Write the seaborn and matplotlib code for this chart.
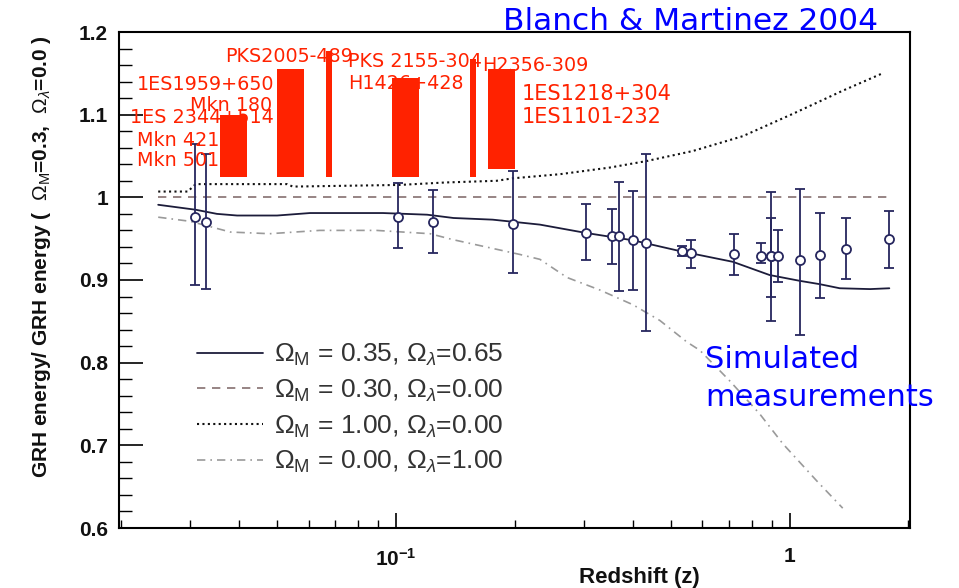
import numpy as np
import pandas as pd
import matplotlib
matplotlib.use("Agg")
import matplotlib.pyplot as plt
import matplotlib.ticker as mticker
from matplotlib.lines import Line2D
import seaborn as sns

# ---------------- data ----------------
# model curves: redshift z and energy ratio
z_solid = [0.0249, 0.031, 0.0351, 0.0395, 0.0499, 0.0605, 0.0927, 0.120, 0.140, 0.176,
           0.232, 0.303, 0.400, 0.526, 0.717, 0.889, 1.06, 1.19, 1.34, 1.60, 1.79]
v_solid = [0.991, 0.985, 0.980, 0.978, 0.978, 0.981, 0.981, 0.979, 0.975, 0.973,
           0.967, 0.957, 0.948, 0.935, 0.922, 0.906, 0.899, 0.895, 0.890, 0.889, 0.890]

z_dashed = [0.0249, 1.79]
v_dashed = [1.0, 1.0]

z_dotted = [0.0249, 0.0296, 0.0310, 0.0529, 0.0547, 0.102, 0.134, 0.180, 0.198, 0.261,
            0.349, 0.434, 0.567, 0.760, 1.018, 1.363, 1.72]
v_dotted = [1.007, 1.007, 1.016, 1.016, 1.013, 1.015, 1.018, 1.020, 1.023, 1.028,
            1.036, 1.044, 1.056, 1.074, 1.101, 1.129, 1.150]

z_dashdot = [0.0249, 0.0300, 0.0380, 0.0478, 0.0640, 0.0892, 0.122, 0.139, 0.173, 0.206,
             0.232, 0.272, 0.329, 0.400, 0.468, 0.548, 0.591, 0.704, 0.839, 0.960, 1.171, 1.363]
v_dashdot = [0.976, 0.971, 0.958, 0.956, 0.960, 0.960, 0.956, 0.949, 0.939, 0.931,
             0.925, 0.903, 0.888, 0.870, 0.851, 0.825, 0.815, 0.778, 0.738, 0.702, 0.657, 0.624]

curve_labels = [r"$\Omega_{\mathrm{M}}$ = 0.35, $\Omega_{\lambda}$=0.65",
                r"$\Omega_{\mathrm{M}}$ = 0.30, $\Omega_{\lambda}$=0.00",
                r"$\Omega_{\mathrm{M}}$ = 1.00, $\Omega_{\lambda}$=0.00",
                r"$\Omega_{\mathrm{M}}$ = 0.00, $\Omega_{\lambda}$=1.00"]

# simulated measurements
z_meas = [0.0309, 0.033, 0.101, 0.124, 0.198, 0.303, 0.353, 0.368, 0.400, 0.431,
          0.532, 0.561, 0.721, 0.844, 0.895, 0.895, 0.933, 1.06, 1.19, 1.39, 1.79]
v_meas = [0.976, 0.970, 0.976, 0.970, 0.968, 0.957, 0.953, 0.953, 0.948, 0.945,
          0.935, 0.933, 0.931, 0.929, 0.929, 0.929, 0.929, 0.924, 0.930, 0.938, 0.950]
lo_meas = [0.894, 0.889, 0.939, 0.933, 0.908, 0.924, 0.919, 0.887, 0.888, 0.838,
           0.929, 0.914, 0.906, 0.921, 0.850, 0.880, 0.897, 0.834, 0.878, 0.901, 0.914]
hi_meas = [1.064, 1.053, 1.017, 1.009, 1.032, 0.992, 0.986, 1.019, 1.008, 1.053,
           0.941, 0.948, 0.956, 0.945, 1.006, 0.975, 0.961, 1.010, 0.981, 0.975, 0.983]

# red source bars (redshift range, ratio range)
bar_zlo = [0.0357, 0.0499, 0.0664, 0.0977, 0.154, 0.171]
bar_zhi = [0.0419, 0.0584, 0.0688, 0.1144, 0.160, 0.200]
bar_bottom = [1.024, 1.024, 1.024, 1.024, 1.024, 1.034]
bar_top = [1.100, 1.155, 1.177, 1.144, 1.167, 1.155]

# source labels (z, ratio position, text)
src_names = ["PKS2005-489", "1ES1959+650", "Mkn 180", "1ES 2344+514", "Mkn 421", "Mkn 501",
             "PKS 2155-304", "H1426+428", "H2356-309", "1ES1218+304", "1ES1101-232"]
src_z = [0.0368, 0.0220, 0.0300, 0.0211, 0.0220, 0.0220, 0.0755, 0.0755, 0.1653, 0.209, 0.209]
src_v = [1.170, 1.137, 1.111, 1.096, 1.069, 1.044, 1.164, 1.138, 1.159, 1.125, 1.097]
src_size = [13.8, 13.8, 13.8, 13.8, 13.8, 13.8, 13.8, 13.8, 13.8, 15, 15]

y_ticks = [0.6, 0.7, 0.8, 0.9, 1.0, 1.1, 1.2]
y_ticklabels = ["0.6", "0.7", "0.8", "0.9", "1", "1.1", "1.2"]
x_ticks = [0.1, 1.0]
x_ticklabels = [r"$\mathbf{10^{-1}}$", "1"]

# ---------------- style ----------------
sns.set_theme(style="white")
plt.rcParams["font.family"] = ["DejaVu Sans"]
plt.rcParams["mathtext.fontset"] = "custom"
plt.rcParams["mathtext.rm"] = "Liberation Sans"
plt.rcParams["mathtext.it"] = "Liberation Sans:italic"
plt.rcParams["mathtext.bf"] = "Liberation Sans:bold"

navy = "#26265e"
red = "#ff2200"

fig = plt.figure(figsize=(9.59, 5.88), dpi=100)
fig.patch.set_facecolor("white")
ax = fig.add_axes([119 / 959, 1 - 528 / 588, (910 - 119) / 959, (528 - 32) / 588])
ax.set_facecolor("white")

# red bars
for zl, zh, b0, b1 in zip(bar_zlo, bar_zhi, bar_bottom, bar_top):
    ax.bar(zl, b1 - b0, width=zh - zl, bottom=b0, align="edge", color=red,
           edgecolor="none", zorder=2)

# curves
df_s = pd.DataFrame({"z": z_solid, "v": v_solid})
df_d = pd.DataFrame({"z": z_dashed, "v": v_dashed})
df_o = pd.DataFrame({"z": z_dotted, "v": v_dotted})
df_dd = pd.DataFrame({"z": z_dashdot, "v": v_dashdot})

st_solid = dict(color="#1c1c3a", linewidth=1.3, linestyle="-")
st_dash = dict(color="#857070", linewidth=1.2, linestyle=(0, (5, 4)))
st_dot = dict(color="#111111", linewidth=1.5, linestyle=(0, (1, 1.6)))
st_dd = dict(color="#9a9a9a", linewidth=1.2, linestyle=(0, (5, 3, 1, 3)))

sns.lineplot(data=df_s, x="z", y="v", ax=ax, estimator=None, sort=False, zorder=3, **st_solid)
sns.lineplot(data=df_d, x="z", y="v", ax=ax, estimator=None, sort=False, zorder=3, **st_dash)
sns.lineplot(data=df_o, x="z", y="v", ax=ax, estimator=None, sort=False, zorder=3, **st_dot)
sns.lineplot(data=df_dd, x="z", y="v", ax=ax, estimator=None, sort=False, zorder=3, **st_dd)

# measurements
vm = np.array(v_meas)
yerr = [vm - np.array(lo_meas), np.array(hi_meas) - vm]
ax.errorbar(z_meas, v_meas, yerr=yerr, fmt="o", ms=6.5, mfc="white", mec=navy, mew=1.3,
            ecolor=navy, elinewidth=1.3, capsize=3.5, capthick=1.3, zorder=4)

# axes
ax.set_xscale("log")
ax.set_xlim(0.0198, 2.02)
ax.set_ylim(0.6, 1.2)
ax.xaxis.set_major_locator(mticker.FixedLocator(x_ticks))
ax.xaxis.set_major_formatter(mticker.FixedFormatter(x_ticklabels))
ax.xaxis.set_minor_locator(mticker.LogLocator(base=10, subs=np.arange(2, 10) * 1.0, numticks=20))
ax.xaxis.set_minor_formatter(mticker.NullFormatter())
ax.yaxis.set_major_locator(mticker.FixedLocator(y_ticks))
ax.yaxis.set_major_formatter(mticker.FixedFormatter(y_ticklabels))
ax.yaxis.set_minor_locator(mticker.MultipleLocator(0.02))

ax.tick_params(axis="y", which="major", direction="in", length=17, width=1.2, color="black",
               left=True, right=False, pad=8, labelsize=15)
ax.tick_params(axis="y", which="minor", direction="in", length=9.5, width=1.0, color="black",
               left=True, right=False)
ax.tick_params(axis="x", which="major", direction="in", length=11, width=1.2, color="black",
               bottom=True, top=False, pad=14, labelsize=15)
ax.tick_params(axis="x", which="minor", direction="in", length=6, width=1.0, color="black",
               bottom=True, top=False)
for lab in ax.get_yticklabels() + ax.get_xticklabels():
    lab.set_fontfamily("Liberation Sans")
    lab.set_fontweight("bold")
    lab.set_color("#111111")
for sp in ax.spines.values():
    sp.set_visible(True)
    sp.set_color("black")
    sp.set_linewidth(1.5)
ax.set_xlabel("")
ax.set_ylabel("")

fig.text(639 / 959, 1 - 577 / 588, "Redshift (z)", ha="center", va="center",
         fontsize=16, fontweight="bold", family="Liberation Sans", color="#111111")
fig.text(42 / 959, 1 - 257 / 588,
         r"GRH energy/ GRH energy (  $\Omega_{\mathrm{M}}$=0.3,  $\Omega_{\lambda}$=0.0 )",
         rotation=90, ha="center", va="center", fontsize=15, fontweight="bold",
         family="Liberation Sans", color="#111111")

# source labels
for zz, vv, name, fs in zip(src_z, src_v, src_names, src_size):
    ax.text(zz, vv, name, color=red, fontsize=fs, ha="left", va="center",
            family="DejaVu Sans", zorder=5)

# annotations
fig.text(503 / 959, 1 - 22 / 588, "Blanch & Martinez 2004", color="#0000ff",
         fontsize=22.5, ha="left", va="center", family="DejaVu Sans")
fig.text(705 / 959, 1 - 360 / 588, "Simulated", color="#0000ff",
         fontsize=22, ha="left", va="center", family="DejaVu Sans")
fig.text(705 / 959, 1 - 397 / 588, "measurements", color="#0000ff",
         fontsize=22, ha="left", va="center", family="DejaVu Sans")

# legend
handles = [Line2D([0], [0], **st_solid), Line2D([0], [0], **st_dash),
           Line2D([0], [0], **st_dot), Line2D([0], [0], **st_dd)]
leg = ax.legend(handles, curve_labels, loc="upper left", frameon=False,
                bbox_to_anchor=(197 / 959, 1 - 342 / 588), bbox_transform=fig.transFigure,
                borderaxespad=0, borderpad=0, handlelength=2.5, handletextpad=0.4,
                labelspacing=0.36, prop={"family": "Liberation Sans", "size": 19})
for t in leg.get_texts():
    t.set_color("#333333")

fig.savefig("out.png", dpi=100, facecolor="white")
